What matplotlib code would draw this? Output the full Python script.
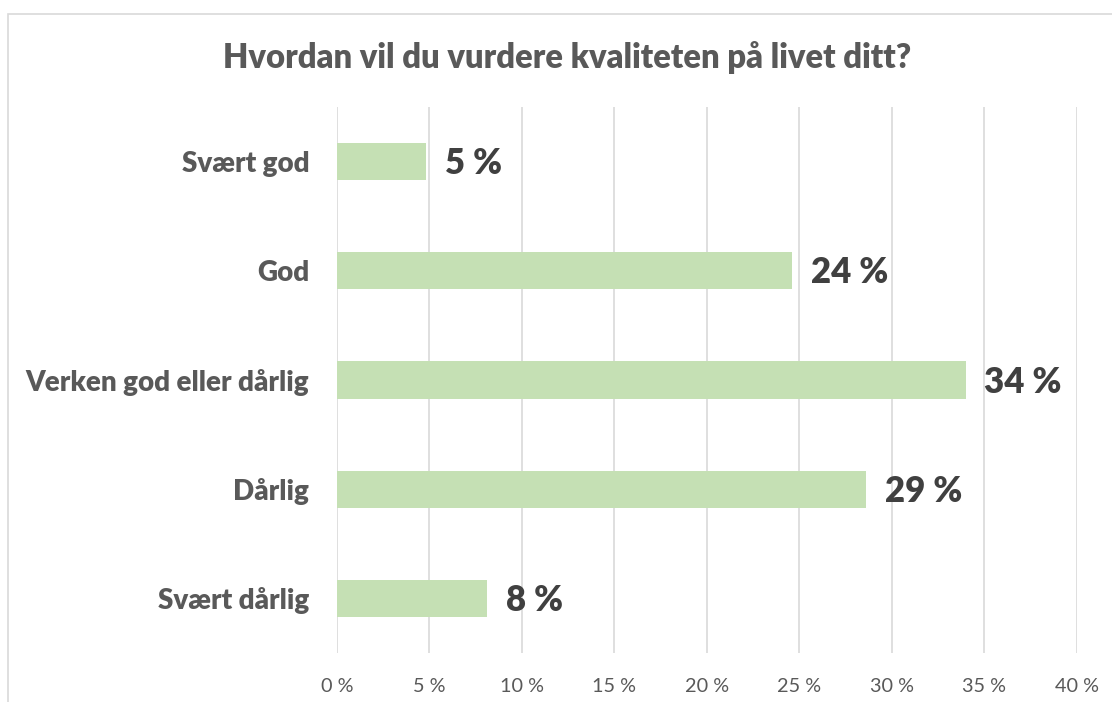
import matplotlib
matplotlib.use("Agg")
import matplotlib.pyplot as plt
from matplotlib.patches import Rectangle

categories = ["Svært god", "God", "Verken god eller dårlig", "Dårlig", "Svært dårlig"]
values = [4.8, 24.6, 34.0, 28.6, 8.1]
value_labels = ["5 %", "24 %", "34 %", "29 %", "8 %"]
xticks = [0, 5, 10, 15, 20, 25, 30, 35, 40]
xtick_labels = ["0 %", "5 %", "10 %", "15 %", "20 %", "25 %", "30 %", "35 %", "40 %"]
title = "Hvordan vil du vurdere kvaliteten på livet ditt?"

plt.rcParams['font.family'] = ['Lato', 'DejaVu Sans']

W, H = 1112, 702
fig = plt.figure(figsize=(W / 100, H / 100), dpi=100)
fig.patch.set_facecolor("white")

# outer chart border (extends beyond right/bottom)
fig.patches.append(Rectangle((8 / W, -0.1), 1.2, 1 - 14 / H + 0.1,
                             transform=fig.transFigure, fill=False,
                             edgecolor="#D9D9D9", linewidth=1.2))

ax = fig.add_axes([337 / W, 1 - 653 / H, (1076.7 - 337) / W, (653 - 107) / H])
ypos = list(range(len(categories)))
ax.barh(ypos, values, height=0.34, color="#C5E0B4", zorder=2)
ax.set_ylim(len(categories) - 0.5, -0.5)
ax.set_xlim(0, 40)
ax.set_xticks(xticks)
ax.set_xticklabels(xtick_labels, fontsize=14.3, color="#595959")
ax.set_yticks(ypos)
ax.set_yticklabels(categories, fontsize=20, fontweight="heavy", color="#595959")
ax.tick_params(axis="both", length=0)
ax.tick_params(axis="x", pad=18)
ax.tick_params(axis="y", pad=20)
for s in ax.spines.values():
    s.set_visible(False)
ax.grid(axis="x", color="#D9D9D9", linewidth=1.2, zorder=0)
ax.set_axisbelow(True)

for y, v, lab in zip(ypos, values, value_labels):
    ax.annotate(lab, xy=(v, y), xytext=(13.5, -1.5), textcoords="offset points",
                ha="left", va="center", fontsize=25, fontweight="heavy", color="#404040")

fig.text(567 / W, 1 - 58 / H, title, ha="center", va="center",
         fontsize=23.6, fontweight="heavy", color="#595959")

fig.savefig("out.png", dpi=100)
